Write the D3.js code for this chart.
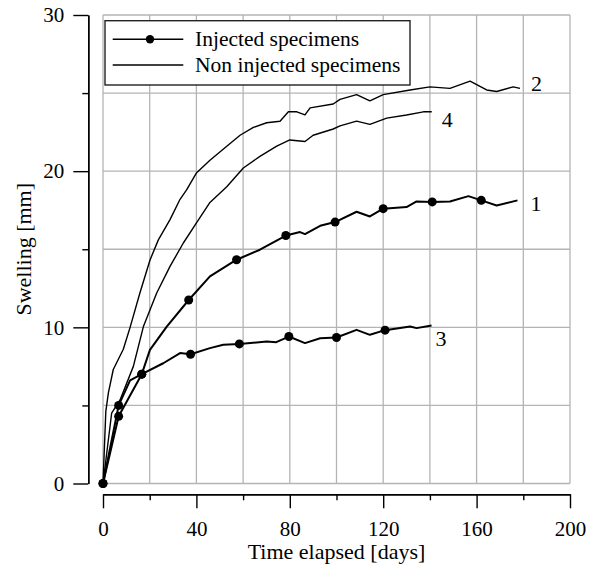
<!DOCTYPE html>
<html>
    <head>
        <title>Swelling</title>
        <style>
            body { margin: 0; background: #fff; }
            text { font-family: "Liberation Serif", "Times New Roman", serif; fill: #000; }
        </style>
    </head>
    <body>
        <svg width="589" height="571" id="lienzo"></svg>

        <script src="https://cdn.jsdelivr.net/npm/d3@7"></script>
        <script>
            // x ticks [days] and y ticks [mm]
            const xMajorTicks = [0, 40, 80, 120, 160, 200]
            const xMinorTicks = [20, 60, 100, 140, 180]
            const yMajorTicks = [0, 10, 20, 30]
            const yMinorTicks = [5, 15, 25]

            const legendLabels = ["Injected specimens", "Non injected specimens"]

            // specimen 1 (injected): line and markers, [day, mm]
            const curve1 = [[0,0],[6.7,4.3],[16.6,7.0],[20.1,8.56],[27.3,10.05],[36.7,11.75],[45.8,13.26],[57.2,14.33],
                [67.2,14.97],[78.3,15.88],[84.4,16.1],[86.5,15.97],[93,16.5],[99.4,16.74],[108.6,17.4],[114.3,17.1],
                [120,17.6],[130,17.7],[134.3,18.06],[141,18.03],[148.6,18.06],[156.5,18.4],[162,18.13],[168.6,17.8],[177.5,18.13]]
            const markers1 = [[0,0],[6.7,4.3],[16.6,7.0],[36.7,11.75],[57.2,14.33],[78.3,15.88],[99.4,16.74],[120,17.6],[141,18.03],[162,18.13]]

            // specimen 3 (injected)
            const curve3 = [[0,0],[6.7,5.0],[11.6,6.6],[16.6,7.0],[25.8,7.7],[33,8.35],[37.5,8.28],[45.8,8.67],[51.5,8.88],
                [58.4,8.94],[70.1,9.09],[74.2,9.05],[79.6,9.41],[86.5,8.99],[93,9.3],[100,9.35],[108.6,9.84],[114.3,9.52],
                [120.8,9.82],[131.5,10.05],[134.3,9.95],[140.7,10.12]]
            const markers3 = [[0,0],[6.7,5.0],[16.6,7.0],[37.5,8.28],[58.4,8.94],[79.6,9.41],[100,9.35],[120.8,9.82]]

            // specimen 2 (non injected)
            const curve2 = [[0,0],[1.2,4.6],[2.3,5.8],[4.4,7.3],[8.7,8.6],[11.6,10.0],[15.8,12.2],[20.1,14.3],[23.7,15.6],
                [28.7,16.9],[33,18.2],[35.8,18.8],[40.1,19.9],[45.8,20.7],[53,21.6],[58.7,22.3],[64.4,22.8],[70.1,23.1],
                [75.8,23.2],[79.4,23.8],[83,23.8],[86.5,23.6],[88.7,24.05],[98.6,24.3],[101.5,24.6],[108.6,24.9],[114.3,24.5],
                [120,24.9],[131.5,25.2],[140,25.4],[148.6,25.3],[157.2,25.76],[164.3,25.2],[168.6,25.1],[175.7,25.4],[178.6,25.3]]

            // specimen 4 (non injected)
            const curve4 = [[0,0],[3.7,4.5],[7.3,5.35],[13,7.5],[17.3,10.05],[23,12.2],[28.7,13.9],[34.4,15.4],[40.1,16.7],
                [45.8,18.0],[53,19.0],[60.1,20.2],[67.2,20.95],[74.4,21.6],[80,22.0],[86.5,21.9],[90,22.3],[98.6,22.7],
                [101.5,22.9],[108.6,23.2],[114.3,23.0],[121.5,23.4],[130,23.6],[137.2,23.8],[140.8,23.8]]

            const curveLabels = ["1", "2", "3", "4"]

            const svg = d3.select("#lienzo")

            const xScale = d3.scaleLinear().domain([0, 200]).range([103, 570])
            const yScale = d3.scaleLinear().domain([0, 30]).range([483.5, 15])

            // grid
            const grid = svg.append("g").attr("stroke", "#b4b4b4").attr("stroke-width", 1.3)
            grid.selectAll("line.v")
                .data(d3.range(0, 201, 20))
                .enter().append("line")
                .attr("class", "v")
                .attr("x1", d => xScale(d)).attr("x2", d => xScale(d))
                .attr("y1", yScale(0)).attr("y2", yScale(30))
            grid.selectAll("line.h")
                .data(d3.range(0, 31, 5))
                .enter().append("line")
                .attr("class", "h")
                .attr("y1", d => yScale(d)).attr("y2", d => yScale(d))
                .attr("x1", xScale(0)).attr("x2", xScale(200))

            // axes, offset from the plot
            const xAxisY = 494.3
            const yAxisX = 88.3

            svg.append("g")
                .attr("transform", "translate(0," + xAxisY + ")")
                .call(d3.axisBottom(xScale).tickValues(xMajorTicks).tickSize(14).tickPadding(13).tickSizeOuter(0))
                .call(g => g.attr("font-family", null).attr("font-size", 21))
            svg.append("g")
                .attr("transform", "translate(0," + xAxisY + ")")
                .call(d3.axisBottom(xScale).tickValues(xMinorTicks).tickSize(6).tickFormat("").tickSizeOuter(0))

            svg.append("g")
                .attr("transform", "translate(" + yAxisX + ",0)")
                .call(d3.axisLeft(yScale).tickValues(yMajorTicks).tickSize(15).tickPadding(9).tickSizeOuter(0))
                .call(g => g.attr("font-family", null).attr("font-size", 21))
            svg.append("g")
                .attr("transform", "translate(" + yAxisX + ",0)")
                .call(d3.axisLeft(yScale).tickValues(yMinorTicks).tickSize(6).tickFormat("").tickSizeOuter(0))

            svg.selectAll(".domain, .tick line").attr("stroke", "#000").attr("stroke-width", 1.4)

            // titles
            svg.append("text")
                .attr("x", (xScale(0) + xScale(200)) / 2)
                .attr("y", 559)
                .attr("text-anchor", "middle")
                .attr("font-size", 22)
                .text("Time elapsed [days]")
            svg.append("text")
                .attr("transform", "translate(31," + (yScale(15)) + ") rotate(-90)")
                .attr("text-anchor", "middle")
                .attr("font-size", 22)
                .text("Swelling [mm]")

            // curves
            const line = d3.line().x(d => xScale(d[0])).y(d => yScale(d[1]))
            const curves = [
                {data: curve2, width: 1.4},
                {data: curve4, width: 1.4},
                {data: curve1, width: 2},
                {data: curve3, width: 2}
            ]
            curves.forEach(c => {
                svg.append("path")
                    .datum(c.data)
                    .attr("d", line)
                    .attr("fill", "none")
                    .attr("stroke", "#000")
                    .attr("stroke-width", c.width)
                    .attr("stroke-linejoin", "round")
            })
            svg.selectAll("circle.m")
                .data(markers1.concat(markers3))
                .enter().append("circle")
                .attr("class", "m")
                .attr("cx", d => xScale(d[0]))
                .attr("cy", d => yScale(d[1]))
                .attr("r", 4.5)
                .attr("fill", "#000")

            // curve labels next to the line ends
            const labelEnds = [curve1, curve2, curve3, curve4]
            const labelOffsets = [[13, 11], [11, 3], [4, 21], [10, 15]]
            labelEnds.forEach((c, i) => {
                const last = c[c.length - 1]
                svg.append("text")
                    .attr("x", xScale(last[0]) + labelOffsets[i][0])
                    .attr("y", yScale(last[1]) + labelOffsets[i][1])
                    .attr("font-size", 22)
                    .text(curveLabels[i])
            })

            // legend
            const legend = svg.append("g")
            legend.append("rect")
                .attr("x", 105).attr("y", 20.7)
                .attr("width", 305).attr("height", 64.3)
                .attr("fill", "#fff")
                .attr("stroke", "#222")
                .attr("stroke-width", 1.4)
            const rowsY = [39.3, 65]
            legendLabels.forEach((lab, i) => {
                legend.append("line")
                    .attr("x1", 112.7).attr("x2", 183.3)
                    .attr("y1", rowsY[i]).attr("y2", rowsY[i])
                    .attr("stroke", "#000")
                    .attr("stroke-width", 1.4)
                if (i === 0) {
                    legend.append("circle")
                        .attr("cx", 150).attr("cy", rowsY[i])
                        .attr("r", 4.2).attr("fill", "#000")
                }
                legend.append("text")
                    .attr("x", 195)
                    .attr("y", rowsY[i] + 7)
                    .attr("font-size", 21.5)
                    .text(lab)
            })
        </script>
    </body>
</html>
